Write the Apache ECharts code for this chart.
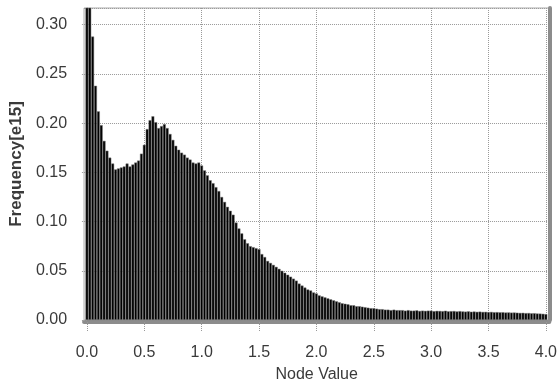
<!DOCTYPE html>
<html><head><meta charset="utf-8">
<script src="https://cdn.jsdelivr.net/npm/echarts@6/dist/echarts.min.js"></script>
<style>html,body{margin:0;padding:0;background:#fff}#c{width:560px;height:388px}</style>
</head><body><div id="c"></div>
<script>
// Histogram: bin width and bar heights (units of 1e15), bins centred at k*binWidth
const binWidth = 0.025;
const frequency = [
  0.340, 0.325, 0.288, 0.238, 0.212, 0.198, 0.182, 0.172, 0.165, 0.159,
  0.153, 0.154, 0.155, 0.156, 0.159, 0.156, 0.158, 0.160, 0.162, 0.169,
  0.178, 0.194, 0.203, 0.207, 0.201, 0.195, 0.197, 0.199, 0.195, 0.189,
  0.183, 0.177, 0.173, 0.170, 0.168, 0.165, 0.163, 0.160, 0.159, 0.160,
  0.157, 0.152, 0.147, 0.142, 0.139, 0.135, 0.131, 0.125, 0.120, 0.115,
  0.111, 0.107, 0.099, 0.093, 0.088, 0.082, 0.078, 0.075, 0.074, 0.073,
  0.072, 0.067, 0.064, 0.060, 0.058, 0.056, 0.054, 0.052, 0.050, 0.048,
  0.046, 0.044, 0.042, 0.040, 0.037, 0.035, 0.033, 0.031, 0.030, 0.028,
  0.027, 0.025, 0.024, 0.023, 0.022, 0.021, 0.020, 0.019, 0.018, 0.017,
  0.0165, 0.016, 0.015, 0.015, 0.014, 0.014, 0.0135, 0.013, 0.0125, 0.012,
  0.012, 0.0115, 0.011, 0.011, 0.0105, 0.0105, 0.010, 0.0105, 0.010, 0.010,
  0.010, 0.0095, 0.010, 0.0095, 0.0095, 0.0098, 0.0092, 0.0095, 0.0093, 0.0095,
  0.0095, 0.009, 0.0093, 0.0092, 0.009, 0.0094, 0.0088, 0.009, 0.0091, 0.0087,
  0.009, 0.0087, 0.0085, 0.0088, 0.0084, 0.0086, 0.0083, 0.0085, 0.0082, 0.0083,
  0.008, 0.0082, 0.0079, 0.008, 0.0078, 0.0079, 0.0076, 0.0077, 0.0075, 0.0076,
  0.0074, 0.0072, 0.0073, 0.0070, 0.0071, 0.0068, 0.0069, 0.0066, 0.0065, 0.0063,
  0.0060
];
const xTicks = [0, 0.5, 1.0, 1.5, 2.0, 2.5, 3.0, 3.5, 4.0];
const xTitle = 'Node Value';
const yTitle = 'Frequency[e15]';

const data = frequency.map((v, i) => [i * binWidth, v]);
const textColor = '#3a3a3a';
const fontFamily = '"Liberation Sans", Arial, sans-serif';
const dotted = { color: '#999', width: 1, type: [1, 1] };

const chart = echarts.init(document.getElementById('c'), null, { renderer: 'canvas' });
chart.setOption({
  animation: false,
  textStyle: { fontFamily: fontFamily },
  grid: { left: 83, right: 8, top: 8, bottom: 64, show: true, borderColor: '#aaa', borderWidth: 1, backgroundColor: '#fff' },
  xAxis: [{
    type: 'value', min: -0.025, max: 4.03, offset: 2,
    axisLine: { show: true, onZero: false, lineStyle: { color: '#8c8c8c', width: 4 } },
    axisTick: { show: true, length: 9, customValues: xTicks, lineStyle: dotted },
    axisLabel: { customValues: xTicks, formatter: v => v.toFixed(1), color: textColor, fontSize: 16, margin: 23, fontFamily: fontFamily },
    splitLine: { show: true, lineStyle: dotted },
    name: xTitle, nameLocation: 'middle', nameGap: 45,
    nameTextStyle: { color: textColor, fontSize: 16, fontFamily: fontFamily }
  }],
  yAxis: [{
    type: 'value', min: 0, max: 0.317, interval: 0.05,
    axisLine: { show: true, lineStyle: { color: '#aaa', width: 1 } },
    axisTick: { show: true, length: 6, lineStyle: dotted },
    axisLabel: { showMaxLabel: false, formatter: v => v.toFixed(2), color: textColor, fontSize: 16, margin: 17, fontFamily: fontFamily },
    splitLine: { show: true, lineStyle: dotted },
    name: yTitle, nameLocation: 'middle', nameGap: 57, nameRotate: 90,
    nameTextStyle: { color: textColor, fontSize: 17, fontWeight: 'bold', fontFamily: fontFamily }
  }, {
    type: 'value', position: 'right', min: 0, max: 0.317,
    axisLine: { show: true, lineStyle: { color: '#8c8c8c', width: 4 } },
    axisTick: { show: false }, axisLabel: { show: false }, splitLine: { show: false }
  }],
  series: [{
    type: 'bar', xAxisIndex: 0, yAxisIndex: 0,
    data: data, barCategoryGap: '0%', barGap: '0%',
    itemStyle: { color: '#000', borderColor: '#7a7a7a', borderWidth: 0.5 },
    emphasis: { disabled: true }
  }]
});
</script>
</body></html>
